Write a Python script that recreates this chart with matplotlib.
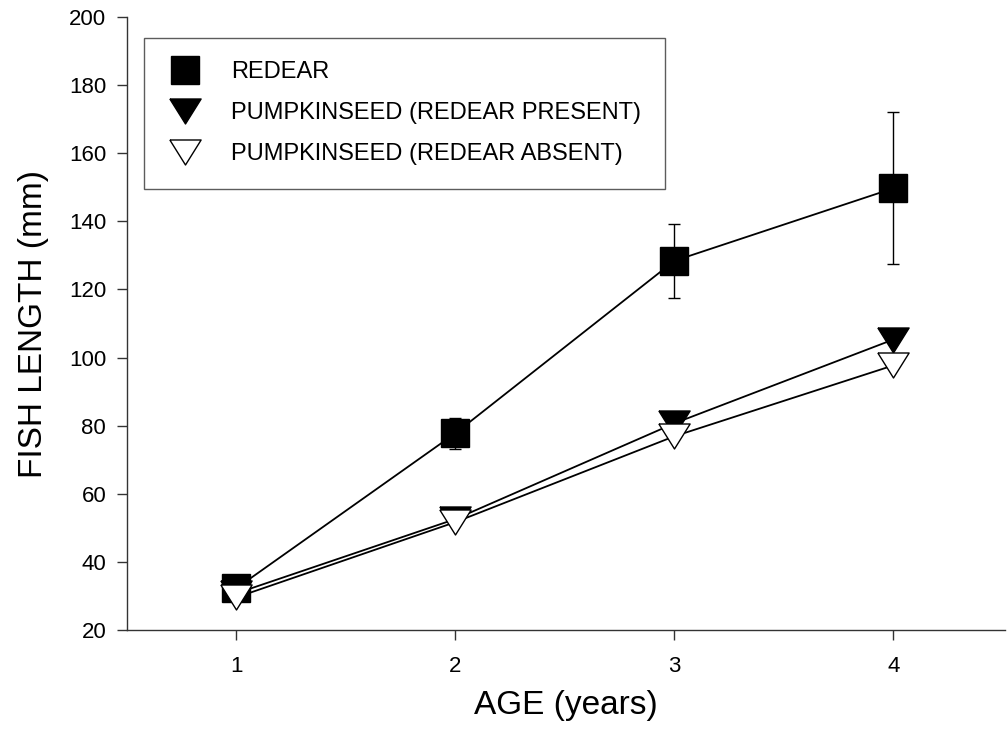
import numpy as np
import matplotlib
matplotlib.use("Agg")
from matplotlib import pyplot as plt
from matplotlib.lines import Line2D

plt.rcParams['font.family'] = ['Liberation Sans', 'DejaVu Sans']

# data
age = [1, 2, 3, 4]
redear = [32.3, 77.8, 128.4, 149.7]
redear_err = [1.0, 4.5, 10.8, 22.3]
pump_present = [30.8, 52.6, 80.7, 105.3]
pump_absent = [29.6, 51.7, 76.9, 97.7]

labels = ["REDEAR", "PUMPKINSEED (REDEAR PRESENT)", "PUMPKINSEED (REDEAR ABSENT)"]

# wide, flat down-pointing triangle
tri = [(-1, 0.8), (1, 0.8), (0, -0.8), (-1, 0.8)]

fig = plt.figure(figsize=(10.08, 7.51), dpi=100)
ax = fig.add_axes([0.126, 0.161, 0.871, 0.8164])

ax.errorbar(age, redear, yerr=redear_err, color='black', lw=1.3,
            marker='s', ms=19.5, mfc='black', mec='black',
            ecolor='black', elinewidth=1.0, capsize=4.5, capthick=1.0,
            label=labels[0], zorder=3)
ax.plot(age, pump_present, color='black', lw=1.3,
        marker=tri, ms=22.5, mfc='black', mec='black', mew=1.0,
        label=labels[1], zorder=4)
ax.plot(age, pump_absent, color='black', lw=1.3,
        marker=tri, ms=22.5, mfc='white', mec='black', mew=1.0,
        label=labels[2], zorder=5)

ax.set_xlim(0.5, 4.51)
ax.set_ylim(20, 200)
ax.set_xticks(age)
ax.set_yticks(np.arange(20, 201, 20))

for s in ['top', 'right']:
    ax.spines[s].set_visible(False)
for s in ['left', 'bottom']:
    ax.spines[s].set_color('#333333')
    ax.spines[s].set_linewidth(1.0)

ax.tick_params(direction='out', length=7, width=1.0, color='#333333',
               labelsize=16)
ax.tick_params(axis='x', pad=12)
ax.tick_params(axis='y', pad=8)

ax.set_xlabel("AGE (years)", fontsize=24, labelpad=9)
ax.set_ylabel("FISH LENGTH (mm)", fontsize=24, labelpad=14)

# legend: markers only, no lines
handles = [
    Line2D([], [], ls='none', marker='s', ms=19.5, mfc='black', mec='black'),
    Line2D([], [], ls='none', marker=tri, ms=22.5, mfc='black', mec='black'),
    Line2D([], [], ls='none', marker=tri, ms=22.5, mfc='white', mec='black'),
]
leg = ax.legend(handles, labels, loc='upper left', bbox_to_anchor=(0.019, 0.966),
                fontsize=17, frameon=True, fancybox=False, borderpad=1.0,
                labelspacing=0.8, handletextpad=1.2, handlelength=1.5,
                borderaxespad=0)
leg.get_frame().set_edgecolor('#333333')
leg.get_frame().set_linewidth(1.0)

fig.savefig("out.png", dpi=100)
